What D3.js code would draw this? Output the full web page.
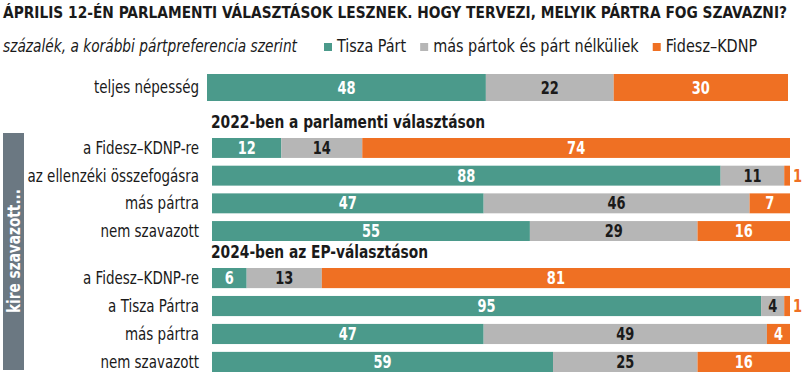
<!DOCTYPE html>
<meta charset="utf-8">
<style>
  body { margin: 0; background: #fff; }
  text { font-family: "DejaVu Sans Condensed", "Liberation Sans Narrow", "Roboto", sans-serif; }
  .title { font-weight: bold; font-size: 15.6px; fill: #1a1a1a; }
  .sub { font-style: italic; font-size: 17px; fill: #1a1a1a; }
  .legend { font-size: 18px; fill: #1a1a1a; }
  .rowlab { font-size: 17px; fill: #1a1a1a; }
  .head { font-weight: bold; font-size: 18px; fill: #1a1a1a; }
  .val { font-weight: bold; font-size: 17px; }
</style>
<body>
  <script src="https://d3js.org/d3.v7.min.js"></script>
  <script>

    // data
    var seriesNames = ["Tisza Párt", "más pártok és párt nélküliek", "Fidesz–KDNP"];
    var seriesColors = ["#4b9a8b", "#b6b6b6", "#ef7023"];
    var labelColors = ["#fff", "#1a1a1a", "#fff"];

    var totalLabel = "teljes népesség";
    var totalValues = [48, 22, 30];

    var groupTitles = ["2022-ben a parlamenti választáson", "2024-ben az EP-választáson"];
    var rows2022 = ["a Fidesz–KDNP-re", "az ellenzéki összefogásra", "más pártra", "nem szavazott"];
    var tisza2022 = [12, 88, 47, 55];
    var other2022 = [14, 11, 46, 29];
    var fidesz2022 = [74, 1, 7, 16];

    var rows2024 = ["a Fidesz–KDNP-re", "a Tisza Pártra", "más pártra", "nem szavazott"];
    var tisza2024 = [6, 95, 47, 59];
    var other2024 = [13, 4, 49, 25];
    var fidesz2024 = [81, 1, 4, 16];

    var sideLabel = "kire szavazott...";

    var width = 810, height = 377;

    var svg = d3.select("body").append("svg")
      .attr("width", width)
      .attr("height", height);

    // the original font is a narrow one, so squeeze the glyphs a bit
    function squeeze(t, k) {
      var w = t.node().getComputedTextLength();
      t.attr("textLength", w * k).attr("lengthAdjust", "spacingAndGlyphs");
      return w * k;
    }
    function fit(t, w) {
      t.attr("textLength", w).attr("lengthAdjust", "spacingAndGlyphs");
    }

    // title + subtitle
    var title = svg.append("text").attr("class", "title")
      .attr("x", 3).attr("y", 18)
      .text("ÁPRILIS 12-ÉN PARLAMENTI VÁLASZTÁSOK LESZNEK. HOGY TERVEZI, MELYIK PÁRTRA FOG SZAVAZNI?");
    fit(title, 784);

    var sub = svg.append("text").attr("class", "sub")
      .attr("x", 3).attr("y", 52)
      .text("százalék, a korábbi pártpreferencia szerint");
    fit(sub, 294);

    // legend
    var lx = 324;
    seriesNames.forEach(function(name, i) {
      svg.append("rect")
        .attr("x", lx).attr("y", 43)
        .attr("width", 8).attr("height", 8)
        .attr("fill", seriesColors[i]);
      var t = svg.append("text").attr("class", "legend")
        .attr("x", lx + 13).attr("y", 52)
        .text(name);
      lx = lx + 13 + squeeze(t, 0.89) + 14;
    });

    // draws one stacked bar
    function drawBar(label, vals, x, y0, h) {
      var lab = svg.append("text").attr("class", "rowlab")
        .attr("x", 199).attr("y", y0 + h / 2)
        .attr("dy", "0.35em")
        .attr("text-anchor", "end")
        .text(label);
      squeeze(lab, 0.88);

      var acc = 0;
      vals.forEach(function(v, i) {
        var x0 = x(acc), x1 = x(acc + v);
        svg.append("rect")
          .attr("x", x0).attr("y", y0)
          .attr("width", x1 - x0).attr("height", h)
          .attr("fill", seriesColors[i]);
        var t = svg.append("text").attr("class", "val")
          .attr("y", y0 + h / 2)
          .attr("dy", "0.36em")
          .text(v);
        if (v <= 1) {
          t.attr("x", x1 + 3).attr("fill", seriesColors[i]);
        } else {
          t.attr("x", (x0 + x1) / 2).attr("text-anchor", "middle").attr("fill", labelColors[i]);
        }
        squeeze(t, 0.85);
        acc += v;
      });
    }

    // total row
    var xTotal = d3.scaleLinear().domain([0, 100]).range([207, 788]);
    drawBar(totalLabel, totalValues, xTotal, 74, 27);

    // groups
    var x = d3.scaleLinear().domain([0, 100]).range([212, 790]);
    var groups = [
      { title: groupTitles[0], rows: rows2022, t: tisza2022, o: other2022, f: fidesz2022, range: [138, 241], w: 274 },
      { title: groupTitles[1], rows: rows2024, t: tisza2024, o: other2024, f: fidesz2024, range: [268, 372], w: 217 }
    ];

    groups.forEach(function(g) {
      var y = d3.scaleBand().domain(d3.range(g.rows.length)).range(g.range).paddingInner(0.28);
      var h = svg.append("text").attr("class", "head")
        .attr("x", 211).attr("y", g.range[0] - 10)
        .text(g.title);
      fit(h, g.w);
      g.rows.forEach(function(r, i) {
        drawBar(r, [g.t[i], g.o[i], g.f[i]], x, y(i), y.bandwidth());
      });
    });

    // side box
    svg.append("rect")
      .attr("x", 3).attr("y", 133)
      .attr("width", 21).attr("height", 237)
      .attr("fill", "#6b7882");
    var side = svg.append("text")
      .attr("transform", "translate(14," + 251 + ") rotate(-90)")
      .attr("text-anchor", "middle")
      .attr("dy", "0.35em")
      .attr("fill", "#fff")
      .style("font-weight", "bold")
      .style("font-size", "17px")
      .text(sideLabel);
    fit(side, 124);

  </script>
</body>
